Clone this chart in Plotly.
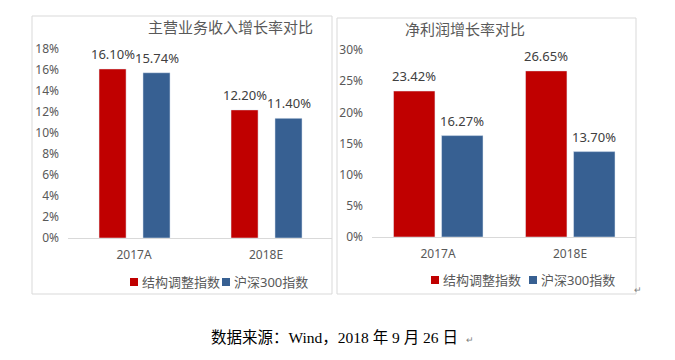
import plotly.graph_objects as go

categories = ["2017A", "2018E"]
series_names = ["结构调整指数", "沪深300指数"]
revenue_struct = [16.10, 12.20]
revenue_hs300 = [15.74, 11.40]
profit_struct = [23.42, 26.65]
profit_hs300 = [16.27, 13.70]
left_ticks = [0, 2, 4, 6, 8, 10, 12, 14, 16, 18]
right_ticks = [0, 5, 10, 15, 20, 25, 30]
title_left = "主营业务收入增长率对比"
title_right = "净利润增长率对比"
footer = "数据来源：Wind，2018 年 9 月 26 日"

RED = "#C00000"
BLUE = "#376092"
series_colors = [RED, BLUE]
W, H = 675, 360
FONT = "Noto Sans, Noto Sans CJK SC, sans-serif"


def px(x):
    return x / W


def py(y):
    return 1 - y / H


fig = go.Figure()

L_W = 0.205
L_OFF = [-0.265, 0.068]
R_W = 0.314
R_OFF = [-0.337, 0.027]

panels = [
    ("x", "y", [revenue_struct, revenue_hs300], L_W, L_OFF),
    ("x2", "y2", [profit_struct, profit_hs300], R_W, R_OFF),
]
annotations = []
for xa, ya, vals, bw, offs in panels:
    for k, (name, color) in enumerate(zip(series_names, series_colors)):
        fig.add_trace(go.Bar(
            x=categories, y=vals[k], name=name, marker_color=color,
            width=bw, offset=offs[k], xaxis=xa, yaxis=ya, showlegend=False,
            hoverinfo="skip",
        ))
        for i, v in enumerate(vals[k]):
            annotations.append(dict(
                x=i + offs[k] + bw / 2, y=v, xref=xa, yref=ya,
                text=f"{v:.2f}%", showarrow=False, yanchor="middle", yshift=15,
                font=dict(size=13, color="#404040", family=FONT),
            ))

annotations += [
    dict(x=px(230), y=py(27), xref="paper", yref="paper", text=title_left,
         showarrow=False, yanchor="middle", font=dict(size=15, color="#595959", family=FONT)),
    dict(x=px(527), y=py(29), xref="paper", yref="paper", text=title_right,
         showarrow=False, yanchor="middle", font=dict(size=15, color="#595959", family=FONT)),
    dict(x=px(334), y=py(337), xref="paper", yref="paper", text=footer,
         showarrow=False, yanchor="middle",
         font=dict(size=15.5, color="#000000", family="Liberation Serif, Noto Sans CJK SC, serif")),
    dict(x=px(644), y=py(289), xref="paper", yref="paper", text="↵",
         showarrow=False, yanchor="middle", font=dict(size=9, color="#808080", family=FONT)),
    dict(x=px(464), y=py(339), xref="paper", yref="paper", text="↵",
         showarrow=False, xanchor="left", yanchor="middle",
         font=dict(size=9, color="#808080", family=FONT)),
]

shapes = [
    dict(type="rect", xref="paper", yref="paper", x0=px(32), x1=px(332), y0=py(294), y1=py(16),
         line=dict(color="#D9D9D9", width=1)),
    dict(type="rect", xref="paper", yref="paper", x0=px(337), x1=px(636), y0=py(294), y1=py(18),
         line=dict(color="#D9D9D9", width=1)),
]

# custom legends (square swatch + label), one per chart
legend_specs = [
    (282, [130, 222]),
    (280, [431, 529]),
]
for ly, xs in legend_specs:
    for name, color, lx in zip(series_names, series_colors, xs):
        shapes.append(dict(type="rect", xref="paper", yref="paper",
                           x0=px(lx), x1=px(lx + 8), y0=py(ly + 4), y1=py(ly - 4),
                           fillcolor=color, line=dict(width=0)))
        annotations.append(dict(x=px(lx + 10), y=py(ly), xref="paper", yref="paper",
                                text=name, showarrow=False, xanchor="left", yanchor="middle",
                                font=dict(size=13, color="#595959", family=FONT)))

axis_font = dict(size=12, color="#595959", family=FONT)
xcommon = dict(type="category", range=[-0.5, 1.5], showline=True, linecolor="#D9D9D9",
               linewidth=1, showgrid=False, zeroline=False, ticks="", tickfont=axis_font,
               fixedrange=True, ticklabelstandoff=6, automargin=False)
ycommon = dict(showline=False, showgrid=False, zeroline=False, ticks="",
               tickfont=axis_font, fixedrange=True, tickmode="array", ticklabelstandoff=8,
               automargin=False)

fig.update_layout(
    width=W, height=H, margin=dict(l=0, r=0, t=0, b=0, autoexpand=False),
    paper_bgcolor="white", plot_bgcolor="white",
    barmode="overlay",
    font=dict(family=FONT),
    showlegend=False,
    xaxis=dict(**xcommon, domain=[px(68), px(332)], anchor="y"),
    yaxis=dict(**ycommon, domain=[py(238), py(49)], range=[0, 18], tickvals=left_ticks,
               ticktext=[f"{t}%" for t in left_ticks], anchor="x"),
    xaxis2=dict(**xcommon, domain=[px(372), px(636)], anchor="y2"),
    yaxis2=dict(**ycommon, domain=[py(237), py(50)], range=[0, 30], tickvals=right_ticks,
                ticktext=[f"{t}%" for t in right_ticks], anchor="x2"),
    annotations=annotations,
    shapes=shapes,
)

post = ("document.body.style.margin='0';document.body.style.padding='0';"
        "document.body.style.overflow='hidden';"
        "var g=document.getElementById('{plot_id}');"
        "g.style.position='absolute';g.style.left='0px';g.style.top='0px';")

fig.write_html("out.html", post_script=post, config={"displayModeBar": False, "staticPlot": True})
